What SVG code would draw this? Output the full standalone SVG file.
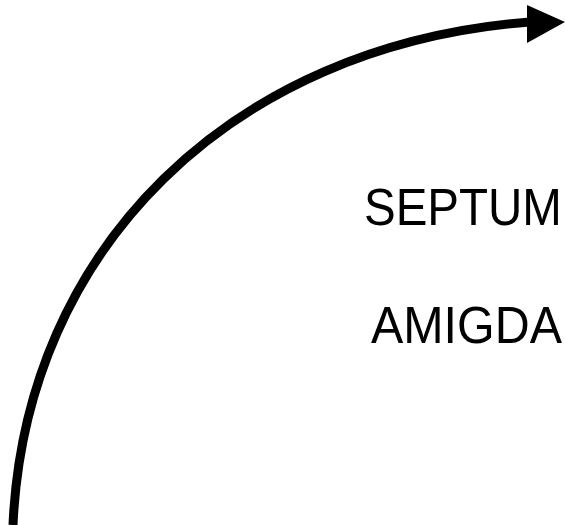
<svg xmlns="http://www.w3.org/2000/svg" width="565" height="525" viewBox="0 0 565 525">
<style>
.lbl{font-family:"Liberation Sans",Arial,sans-serif;fill:#000}
.conn{fill:none;stroke:#000;stroke-width:9}
</style>
<rect width="565" height="525" fill="#fff"/>
<g id="connectors">
<path class="conn" d="M13,525 C25,250 230,45 530,22"/>
<polygon points="527,5 565,22 527,43" fill="#000"/>
</g>
<g id="septum" transform="translate(364,225) scale(1,1.074)"><text class="lbl" x="0" y="0" font-size="47.5">SEPTUM</text></g>
<g id="amigda" transform="translate(371,343) scale(1,1.054)"><text class="lbl" x="0" y="0" font-size="48.4">AMIGDA</text></g>
</svg>
